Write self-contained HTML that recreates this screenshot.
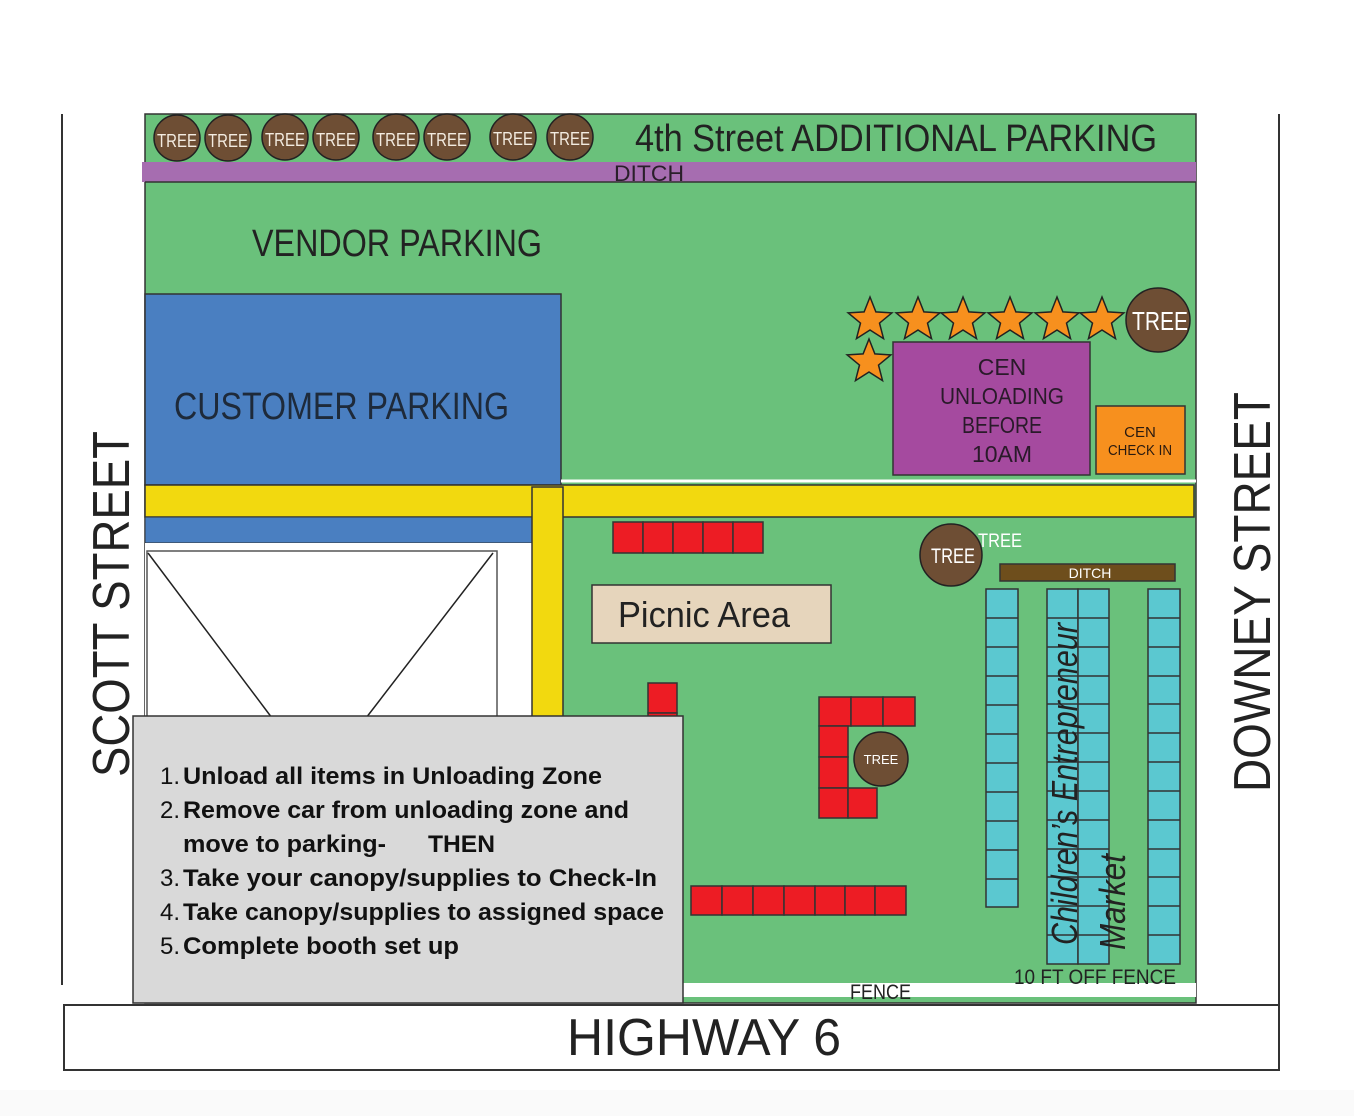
<!DOCTYPE html>
<html><head><meta charset="utf-8"><style>
html,body{margin:0;padding:0;background:#fff;}
svg{display:block;}
text{font-family:"Liberation Sans",sans-serif;}
</style></head><body>
<svg width="1354" height="1116" viewBox="0 0 1354 1116" xmlns="http://www.w3.org/2000/svg">
<defs>
<polygon id="star" points="0,-23 5.88,-8.09 21.87,-7.11 9.51,3.09 13.52,18.61 0,10 -13.52,18.61 -9.51,3.09 -21.87,-7.11 -5.88,-8.09" fill="#f7901e" stroke="#222" stroke-width="1.5"/>
</defs>
<rect x="0" y="1090" width="1354" height="26" fill="#fafafa"/>
<!-- street lines -->
<line x1="62" y1="114" x2="62" y2="985" stroke="#333" stroke-width="2"/>
<line x1="1279" y1="114" x2="1279" y2="1005" stroke="#333" stroke-width="2"/>
<!-- green field -->
<rect x="145" y="114" width="1051" height="889" fill="#6ac17b" stroke="#333" stroke-width="1.5"/>
<!-- ditch band -->
<rect x="142" y="162" width="1054" height="20" fill="#a66db0"/>
<line x1="145" y1="182" x2="1196" y2="182" stroke="#333" stroke-width="1.5"/>
<text x="614" y="181" font-size="22" fill="#2a1f2a" textLength="70" lengthAdjust="spacingAndGlyphs">DITCH</text>
<!-- top trees -->
<g fill="#6e4e34" stroke="#222" stroke-width="1.5">
<circle cx="177" cy="138" r="23"/><circle cx="228" cy="138" r="23"/><circle cx="285" cy="137" r="23"/><circle cx="336" cy="137" r="23"/><circle cx="396" cy="137" r="23"/><circle cx="447" cy="137" r="23"/><circle cx="513" cy="137" r="23"/><circle cx="570" cy="137" r="23"/>
</g>
<g fill="#f3ebe0" font-size="18" text-anchor="middle">
<text x="177" y="147" textLength="40" lengthAdjust="spacingAndGlyphs">TREE</text><text x="228" y="147" textLength="40" lengthAdjust="spacingAndGlyphs">TREE</text><text x="285" y="146" textLength="40" lengthAdjust="spacingAndGlyphs">TREE</text><text x="336" y="146" textLength="40" lengthAdjust="spacingAndGlyphs">TREE</text><text x="396" y="146" textLength="40" lengthAdjust="spacingAndGlyphs">TREE</text><text x="447" y="146" textLength="40" lengthAdjust="spacingAndGlyphs">TREE</text><text x="513" y="145" textLength="40" lengthAdjust="spacingAndGlyphs">TREE</text><text x="570" y="145" textLength="40" lengthAdjust="spacingAndGlyphs">TREE</text>
</g>
<text x="635" y="151" font-size="38" fill="#222" textLength="522" lengthAdjust="spacingAndGlyphs">4th Street ADDITIONAL PARKING</text>
<text x="252" y="256" font-size="38" fill="#222" textLength="290" lengthAdjust="spacingAndGlyphs">VENDOR PARKING</text>
<!-- customer parking -->
<rect x="145" y="294" width="416" height="191" fill="#4a7fc1" stroke="#333" stroke-width="1.5"/>
<text x="174" y="419" font-size="38" fill="#1e2a3a" textLength="335" lengthAdjust="spacingAndGlyphs">CUSTOMER PARKING</text>
<line x1="561" y1="481" x2="1196" y2="481" stroke="#fff" stroke-width="3"/>
<!-- roads -->
<rect x="145" y="485" width="1049" height="32" fill="#f2d90f" stroke="#333" stroke-width="1.5"/>
<rect x="145" y="517" width="387" height="26" fill="#4a7fc1" stroke="#333" stroke-width="1"/>
<rect x="145" y="543" width="387" height="173" fill="#fff"/>
<rect x="147" y="551" width="350" height="170" fill="#fff" stroke="#555" stroke-width="1.5"/>
<line x1="148" y1="553" x2="272" y2="718" stroke="#222" stroke-width="1.5"/>
<line x1="493" y1="553" x2="366" y2="718" stroke="#222" stroke-width="1.5"/>
<rect x="532" y="487" width="31" height="232" fill="#f2d90f" stroke="#333" stroke-width="1.5"/>
<!-- stars -->
<use href="#star" x="870" y="320"/><use href="#star" x="918" y="320"/><use href="#star" x="963" y="320"/><use href="#star" x="1010" y="320"/><use href="#star" x="1057" y="320"/><use href="#star" x="1102" y="320"/><use href="#star" x="869" y="362"/>
<circle cx="1158" cy="320" r="32" fill="#6e4e34" stroke="#222" stroke-width="1.5"/>
<text x="1160" y="330" font-size="26" fill="#fff" text-anchor="middle" textLength="56" lengthAdjust="spacingAndGlyphs">TREE</text>
<!-- CEN unloading -->
<rect x="893" y="342" width="197" height="133" fill="#a54a9f" stroke="#333" stroke-width="1.5"/>
<g font-size="23" fill="#2a1a2a" text-anchor="middle">
<text x="1002" y="375">CEN</text>
<text x="1002" y="404" textLength="124" lengthAdjust="spacingAndGlyphs">UNLOADING</text>
<text x="1002" y="433" textLength="80" lengthAdjust="spacingAndGlyphs">BEFORE</text>
<text x="1002" y="462">10AM</text>
</g>
<rect x="1096" y="406" width="89" height="68" fill="#f7901e" stroke="#333" stroke-width="1.5"/>
<text x="1140" y="437" font-size="15" fill="#2a1a10" text-anchor="middle">CEN</text>
<text x="1140" y="455" font-size="15" fill="#2a1a10" text-anchor="middle" textLength="64" lengthAdjust="spacingAndGlyphs">CHECK IN</text>
<!-- red top -->
<g fill="#ed1c24" stroke="#333" stroke-width="1.5">
<rect x="613" y="522" width="30" height="31"/><rect x="643" y="522" width="30" height="31"/><rect x="673" y="522" width="30" height="31"/><rect x="703" y="522" width="30" height="31"/><rect x="733" y="522" width="30" height="31"/>
<rect x="648" y="683" width="29" height="30"/><rect x="648" y="713" width="29" height="6"/>
<rect x="819" y="697" width="32" height="29"/><rect x="851" y="697" width="32" height="29"/><rect x="883" y="697" width="32" height="29"/>
<rect x="819" y="726" width="29" height="31"/><rect x="819" y="757" width="29" height="31"/><rect x="819" y="788" width="29" height="30"/><rect x="848" y="788" width="29" height="30"/>
<rect x="691" y="886" width="31" height="29"/><rect x="722" y="886" width="31" height="29"/><rect x="753" y="886" width="31" height="29"/><rect x="784" y="886" width="31" height="29"/><rect x="815" y="886" width="30" height="29"/><rect x="845" y="886" width="30" height="29"/><rect x="875" y="886" width="31" height="29"/>
</g>
<rect x="592" y="585" width="239" height="58" fill="#e6d5bc" stroke="#333" stroke-width="1.5"/>
<text x="618" y="627" font-size="36" fill="#222" textLength="172" lengthAdjust="spacingAndGlyphs">Picnic Area</text>
<circle cx="881" cy="759" r="27" fill="#6e4e34" stroke="#222" stroke-width="1.5"/>
<text x="881" y="764" font-size="13" fill="#fff" text-anchor="middle">TREE</text>
<circle cx="951" cy="555" r="31" fill="#6e4e34" stroke="#222" stroke-width="1.5"/>
<text x="953" y="563" font-size="21" fill="#fff" text-anchor="middle" textLength="44" lengthAdjust="spacingAndGlyphs">TREE</text>
<text x="978" y="547" font-size="19" fill="#fff" textLength="44" lengthAdjust="spacingAndGlyphs">TREE</text>
<rect x="1000" y="564" width="175" height="17" fill="#6e4e1c" stroke="#333" stroke-width="1.5"/>
<text x="1090" y="578" font-size="14" fill="#fff" text-anchor="middle">DITCH</text>
<!-- cyan columns -->
<g fill="#5bc8d0" stroke="#333" stroke-width="1.5">
<rect x="986" y="589" width="32" height="318"/>
<rect x="1047" y="589" width="31" height="375"/><rect x="1078" y="589" width="31" height="375"/>
<rect x="1148" y="589" width="32" height="375"/>
</g>
<g stroke="#333" stroke-width="1.5">
<path d="M986 618H1018M986 647H1018M986 676H1018M986 705H1018M986 734H1018M986 763H1018M986 792H1018M986 821H1018M986 850H1018M986 879H1018"/>
<path d="M1047 618H1109M1047 647H1109M1047 676H1109M1047 704H1109M1047 733H1109M1047 762H1109M1047 791H1109M1047 820H1109M1047 849H1109M1047 877H1109M1047 906H1109M1047 935H1109"/>
<path d="M1148 618H1180M1148 647H1180M1148 676H1180M1148 704H1180M1148 733H1180M1148 762H1180M1148 791H1180M1148 820H1180M1148 849H1180M1148 877H1180M1148 906H1180M1148 935H1180"/>
</g>
<text transform="translate(1077,945) rotate(-90)" font-size="36" font-style="italic" fill="#222" textLength="322" lengthAdjust="spacingAndGlyphs">Children’s Entrepreneur</text>
<text transform="translate(1125,950) rotate(-90)" font-size="36" font-style="italic" fill="#222" textLength="96" lengthAdjust="spacingAndGlyphs">Market</text>
<!-- fence -->
<rect x="683" y="983" width="513" height="14" fill="#fff"/>
<text x="1014" y="984" font-size="21" fill="#222" textLength="162" lengthAdjust="spacingAndGlyphs">10 FT OFF FENCE</text>
<text x="850" y="999" font-size="21" fill="#222" textLength="61" lengthAdjust="spacingAndGlyphs">FENCE</text>
<!-- instructions box -->
<rect x="133" y="716" width="550" height="287" fill="#d9d9d9" stroke="#333" stroke-width="1.5"/>
<g font-size="24" fill="#111">
<text x="160" y="784">1.</text><text x="183" y="784" font-weight="bold" textLength="419" lengthAdjust="spacingAndGlyphs">Unload all items in Unloading Zone</text>
<text x="160" y="818">2.</text><text x="183" y="818" font-weight="bold" textLength="446" lengthAdjust="spacingAndGlyphs">Remove car from unloading zone and</text>
<text x="183" y="852" font-weight="bold" textLength="203" lengthAdjust="spacingAndGlyphs">move to parking-</text><text x="428" y="852" font-weight="bold" textLength="67" lengthAdjust="spacingAndGlyphs">THEN</text>
<text x="160" y="886">3.</text><text x="183" y="886" font-weight="bold" textLength="474" lengthAdjust="spacingAndGlyphs">Take your canopy/supplies  to Check-In</text>
<text x="160" y="920">4.</text><text x="183" y="920" font-weight="bold" textLength="481" lengthAdjust="spacingAndGlyphs">Take canopy/supplies to assigned space</text>
<text x="160" y="954">5.</text><text x="183" y="954" font-weight="bold" textLength="276" lengthAdjust="spacingAndGlyphs">Complete booth set up</text>
</g>
<!-- highway -->
<rect x="64" y="1005" width="1215" height="65" fill="#fff" stroke="#333" stroke-width="2"/>
<text x="567" y="1055" font-size="52" fill="#222" textLength="274" lengthAdjust="spacingAndGlyphs">HIGHWAY 6</text>
<!-- street names -->
<text transform="translate(129,777) rotate(-90)" font-size="52" fill="#222" textLength="346" lengthAdjust="spacingAndGlyphs">SCOTT STREET</text>
<text transform="translate(1270,792) rotate(-90)" font-size="52" fill="#222" textLength="400" lengthAdjust="spacingAndGlyphs">DOWNEY STREET</text>
</svg>
</body></html>
